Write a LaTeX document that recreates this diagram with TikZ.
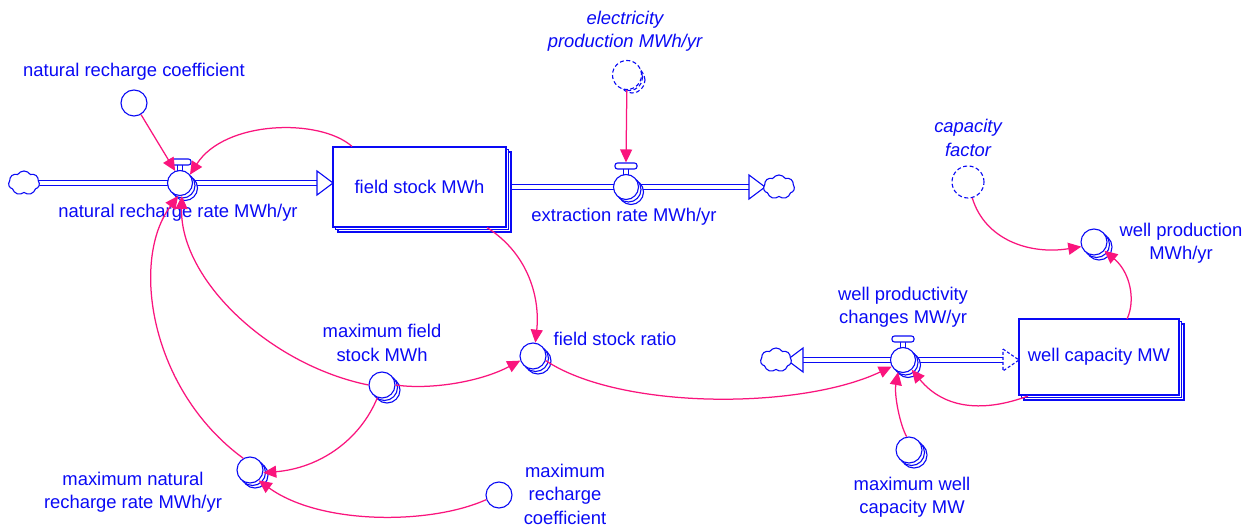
\documentclass[tikz,border=0pt]{standalone}
\usepackage{fontspec}
\setmainfont{Liberation Sans}
\usetikzlibrary{arrows.meta,shapes.symbols}
\definecolor{vb}{RGB}{10,10,245}
\definecolor{pk}{RGB}{250,20,125}
\newcommand\valveat[3]{%
  \draw[vb,line width=1.1pt] (#2-2.6,#3-18) -- (#2-2.6,#3-11) (#2+2.6,#3-18) -- (#2+2.6,#3-11);
  \node[valvebar] (#1b) at (#2,#3-21) {};
  \node[valvec] at (#2+5,#3+5) {};
  \node[valvec] at (#2+2.5,#3+2.5) {};
  \node[valvec] (#1) at (#2,#3) {};
}
\newcommand\stackaux[4]{%
  \node[#4] at (#2+5,#3+5) {};
  \node[#4] at (#2+2.5,#3+2.5) {};
  \node[#4] (#1) at (#2,#3) {};
}
\newcommand\stockat[6]{%
  \node[stockbox,minimum width=#4pt,minimum height=#5pt] at (#2+5,#3+5) {};
  \node[stockbox,minimum width=#4pt,minimum height=#5pt] at (#2+2.5,#3+2.5) {};
  \node[stockbox,minimum width=#4pt,minimum height=#5pt] (#1) at (#2,#3) {#6};
}
\begin{document}
\begin{tikzpicture}[x=1pt,y=-1pt,
  lbl/.style={text=vb,font=\fontsize{18.4}{23.5}\selectfont,align=center,inner sep=0},
  ilbl/.style={text=vb,font=\fontsize{18.4}{23.5}\selectfont\itshape,align=center,inner sep=0},
  auxc/.style={circle,draw=vb,fill=white,line width=1.1pt,minimum size=26pt,inner sep=0},
  ghostc/.style={auxc,dashed,dash pattern=on 4pt off 2.5pt},
  valvec/.style={circle,draw=vb,fill=white,line width=1.1pt,minimum size=25pt,inner sep=0},
  valvebar/.style={rectangle,rounded corners=2.5pt,draw=vb,fill=white,line width=1.1pt,minimum width=22pt,minimum height=6pt,inner sep=0},
  link/.style={draw=pk,line width=1.25pt,-{Triangle[length=13pt,width=12pt]}},
  pipe/.style={draw=vb,double=white,double distance=3.6pt,line width=1.1pt},
  pipehead/.style={draw=vb,fill=white,line width=1.1pt,line join=miter},
  stockbox/.style={rectangle,draw=vb,fill=white,line width=1.1pt,inner sep=0,text=vb,font=\fontsize{18.4}{23.5}\selectfont},
  cloudn/.style={cloud,cloud puffs=7,cloud puff arc=115,draw=vb,fill=white,line width=1.1pt,minimum width=31pt,minimum height=24pt,inner sep=0,aspect=1.25},
]
\useasboundingbox[fill=white] (0,0) rectangle (1252,526);

% ---- flow pipes
\draw[pipe] (30,183) -- (318,183);
\draw[pipehead] (317,171) -- (333,183) -- (317,195) -- cycle;
\draw[pipe] (500,187) -- (749,187);
\draw[pipehead] (749,175) -- (765,187) -- (749,199) -- cycle;
\draw[pipe] (802,360) -- (1003,360);
\draw[pipehead] (803,348) -- (787,360) -- (803,372) -- cycle;
\draw[pipehead,dashed,dash pattern=on 3pt off 2pt] (1003,349) -- (1019,360) -- (1003,371) -- cycle;

% ---- clouds
\node[cloudn] (c1) at (24,183) {};
\node[cloudn] (c2) at (779,187) {};
\node[cloudn] (c3) at (776,360) {};

% ---- stocks
\stockat{fs}{419.5}{187}{173}{80}{field stock MWh}
\stockat{wc}{1099}{357}{160}{76}{well capacity MW}

% ---- valves
\valveat{v1}{180}{183}
\valveat{ev}{626}{187}
\valveat{v3}{903}{360}

% ---- auxiliaries
\node[auxc] (coef) at (134,103) {};
\node[ghostc] at (632,80) {};
\node[ghostc] at (629.5,77.5) {};
\node[ghostc,minimum size=29pt] (el) at (627,75) {};
\node[ghostc,minimum size=32pt] (cf) at (968,182) {};
\stackaux{wp}{1094}{242}{auxc}
\stackaux{fsr}{533}{356}{auxc}
\stackaux{mfs}{382}{385}{auxc}
\stackaux{mnr}{250}{470}{auxc}
\node[auxc] (mrc) at (499,495) {};
\stackaux{mwc}{909}{450}{auxc}

% ---- labels
\node[lbl] (lcoef) at (134,72) {natural recharge coefficient};
\node[lbl] (lv1) at (178,213) {natural recharge rate MWh/yr};
\node[lbl] (lev) at (624,217) {extraction rate MWh/yr};
\node[ilbl] (lel) at (625,31) {electricity\\production MWh/yr};
\node[ilbl] (lcf) at (968,138) {capacity\\factor};
\node[lbl] (lwp) at (1181,243) {well production\\MWh/yr};
\node[lbl] (lv3) at (903,307) {well productivity\\changes MW/yr};
\node[lbl] (lfsr) at (615,339) {field stock ratio};
\node[lbl] (lmfs) at (382,343) {maximum field\\stock MWh};
\node[lbl] (lmnr) at (133,492) {maximum natural\\recharge rate MWh/yr};
\node[lbl] (lmrc) at (565,494) {maximum\\recharge\\coefficient};
\node[lbl] (lmwc) at (912,497) {maximum well\\capacity MW};

% ---- links
\draw[link] (coef) -- (v1.112);
\draw[link] (fs.149) .. controls (320,118) and (225,120) .. (v1.40);
\draw[link] (el) -- (evb.north);
\draw[link] (fs.-31) .. controls (530,255) and (540,300) .. (fsr.80);
\draw[link] (mfs.180) .. controls (270,365) and (180,280) .. (v1.-82);
\draw[link] (mfs.0) .. controls (430,390) and (480,382) .. (fsr.200);
\draw[link] (mfs.-110) .. controls (360,440) and (320,468) .. (mnr.-12);
\draw[link] (mrc.200) .. controls (430,525) and (320,525) .. (mnr.-50);
\draw[link] (mnr.120) .. controls (150,390) and (130,260) .. (v1.-98);
\draw[link] (fsr.-20) .. controls (620,410) and (800,410) .. (v3.210);
\draw[link] (mwc.100) .. controls (900,425) and (894,395) .. (v3.-112);
\draw[link] (1028,396) .. controls (985,412) and (945,410) .. (v3.-48);
\draw[link] (cf.-75) .. controls (985,240) and (1030,255) .. (wp.200);
\draw[link] (1127,319) .. controls (1136,300) and (1130,272) .. (wp.-40);
\end{tikzpicture}
\end{document}
